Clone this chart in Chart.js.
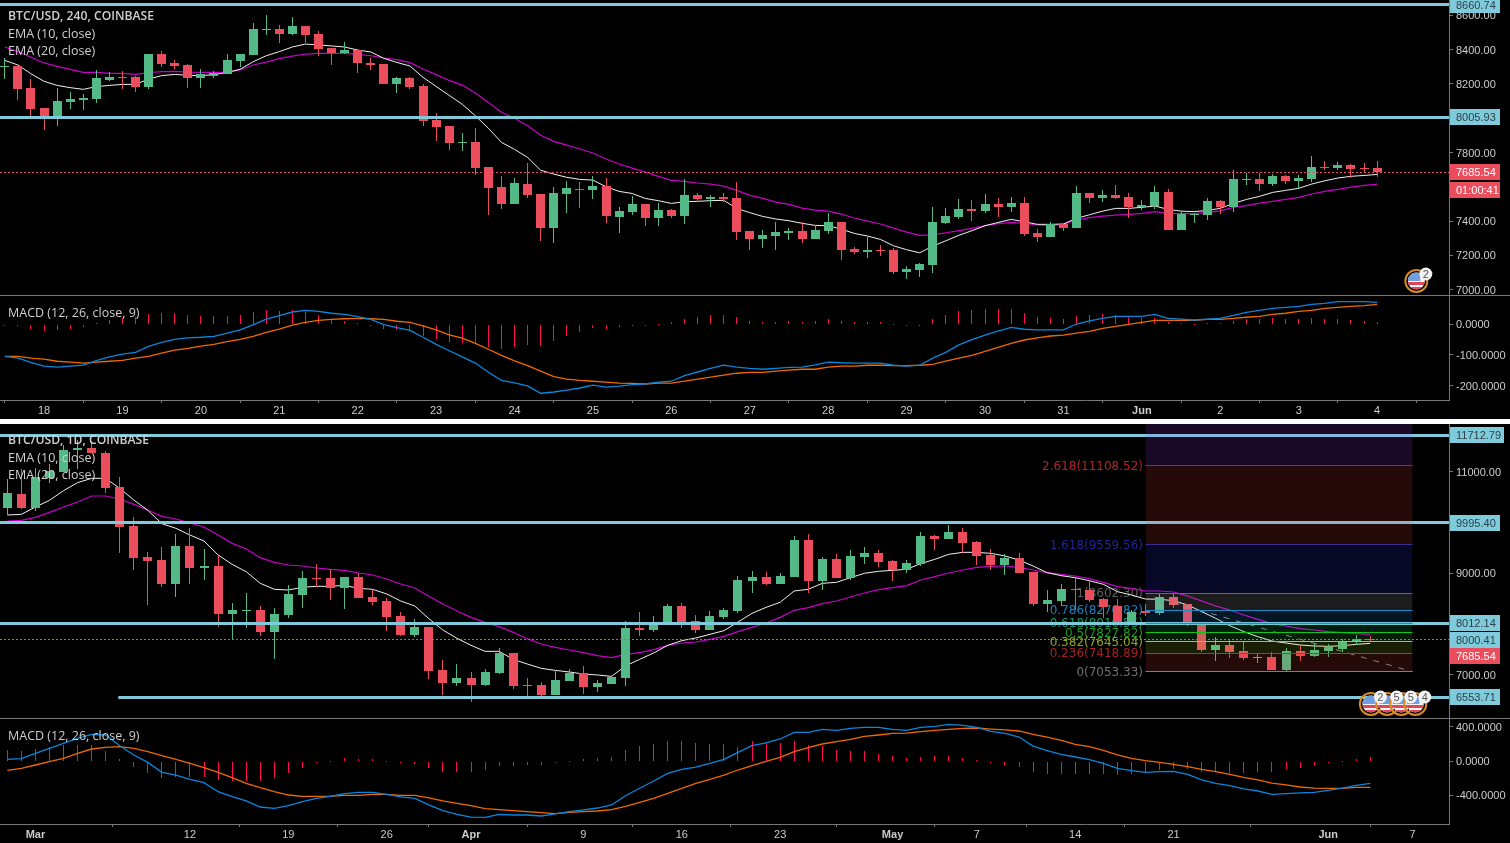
<!DOCTYPE html>
<html>
<head>
<meta charset="utf-8">
<title>BTC/USD</title>
<script src="https://cdn.jsdelivr.net/npm/chart.js@4/dist/chart.umd.min.js"></script>
<style>
  html, body { margin: 0; padding: 0; width: 1510px; height: 843px; background: #000; overflow: hidden; }
  canvas { position: absolute; left: 0; display: block; }
  .sep { position: absolute; left: 0; width: 1510px; }
</style>
</head>
<body>
<canvas id="price240" style="top:0" width="1510" height="295"></canvas>
<div class="sep" style="top:295px;height:1px;background:#777"></div>
<canvas id="macd240" style="top:296px" width="1510" height="123"></canvas>
<div class="sep" style="top:419px;height:5px;background:#fff"></div>
<canvas id="price1d" style="top:424px" width="1510" height="294"></canvas>
<div class="sep" style="top:718px;height:1px;background:#777"></div>
<canvas id="macd1d" style="top:719px" width="1510" height="124"></canvas>

<script>
// 240 minute candles
const open240 = [8300,8304,8174,8059,7995,8094,8106,8112,8222,8242,8240,8182,8374,8322,8310,8234,8246,8257,8333,8368,8516,8520,8491,8537,8491,8409,8378,8397,8320,8316,8199,8234,8187,7989,7954,7857,7861,7715,7598,7499,7616,7558,7359,7558,7587,7581,7604,7423,7453,7499,7418,7464,7429,7552,7528,7540,7534,7342,7295,7313,7332,7342,7295,7342,7394,7237,7219,7231,7231,7103,7114,7143,7388,7423,7470,7458,7499,7482,7505,7330,7307,7383,7359,7563,7534,7552,7540,7482,7488,7569,7348,7435,7435,7517,7482,7641,7645,7616,7663,7633,7645,7715,7709,7727,7711,7709];
const high240 = [8349,8304,8228,8059,8174,8150,8141,8281,8267,8275,8246,8374,8392,8339,8316,8287,8275,8374,8374,8555,8601,8543,8590,8537,8508,8409,8444,8397,8351,8316,8240,8240,8199,8030,7954,7913,7942,7715,7663,7651,7738,7558,7598,7633,7628,7663,7651,7482,7546,7499,7505,7470,7645,7563,7552,7563,7628,7342,7348,7394,7359,7394,7377,7447,7394,7248,7307,7260,7243,7138,7155,7482,7476,7528,7523,7558,7534,7540,7540,7353,7394,7383,7604,7563,7581,7610,7563,7523,7604,7587,7453,7447,7534,7523,7698,7680,7680,7674,7668,7668,7779,7750,7744,7733,7738,7750];
const low240 = [8230,8106,8009,7931,7954,8053,8047,8088,8217,8170,8152,8170,8298,8287,8176,8176,8234,8257,8298,8368,8485,8438,8485,8438,8362,8310,8374,8263,8281,8199,8147,8170,7954,7867,7814,7808,7668,7435,7470,7499,7534,7283,7272,7447,7476,7528,7388,7330,7435,7371,7371,7418,7383,7511,7482,7511,7289,7231,7243,7231,7289,7272,7295,7324,7173,7208,7184,7196,7091,7062,7074,7097,7383,7412,7400,7447,7423,7453,7313,7278,7307,7342,7359,7505,7511,7528,7418,7464,7470,7348,7348,7388,7406,7441,7453,7610,7575,7604,7616,7587,7628,7698,7698,7651,7680,7657];
const close240 = [8306,8170,8053,7995,8100,8112,8117,8234,8240,8238,8182,8374,8316,8304,8234,8257,8263,8339,8374,8520,8520,8491,8537,8485,8403,8378,8397,8322,8312,8199,8234,8182,7983,7948,7855,7861,7709,7593,7499,7622,7552,7359,7563,7593,7583,7604,7429,7458,7499,7418,7464,7429,7552,7528,7540,7528,7336,7295,7318,7336,7342,7295,7348,7394,7231,7219,7231,7227,7103,7120,7149,7394,7429,7470,7458,7499,7482,7505,7324,7307,7383,7359,7563,7534,7552,7534,7482,7493,7569,7348,7441,7441,7517,7482,7645,7645,7616,7663,7633,7651,7715,7711,7727,7703,7707,7685.54];
const ema10240 = [8337,8310,8259,8215,8191,8178,8168,8184,8191,8197,8197,8228,8248,8255,8250,8248,8254,8267,8285,8329,8364,8388,8415,8432,8427,8421,8415,8397,8386,8349,8325,8304,8238,8185,8133,8081,8014,7941,7859,7818,7771,7696,7674,7655,7643,7639,7600,7573,7561,7532,7519,7503,7513,7515,7519,7521,7474,7449,7427,7412,7402,7387,7375,7373,7353,7328,7313,7293,7256,7233,7215,7254,7285,7317,7344,7373,7392,7410,7396,7381,7381,7383,7416,7437,7458,7474,7474,7480,7488,7468,7458,7455,7462,7474,7503,7526,7544,7567,7579,7591,7616,7635,7651,7661,7666,7672];
const ema20240 = [8415,8388,8355,8322,8302,8285,8267,8267,8261,8261,8255,8265,8271,8273,8269,8267,8267,8267,8281,8310,8327,8347,8362,8374,8378,8378,8378,8372,8364,8351,8341,8324,8287,8254,8220,8193,8147,8092,8034,7999,7956,7900,7865,7843,7820,7797,7762,7733,7709,7686,7661,7637,7631,7622,7616,7604,7579,7550,7532,7511,7497,7476,7464,7458,7441,7418,7400,7383,7359,7336,7317,7320,7332,7344,7357,7373,7385,7392,7387,7377,7375,7381,7406,7420,7429,7435,7439,7445,7455,7443,7443,7443,7451,7460,7480,7490,7505,7515,7526,7538,7558,7573,7585,7598,7608,7614];
const macd240 = [-105,-111,-125,-137,-140,-137,-134,-119,-107,-98,-92,-73,-60,-50,-45,-43,-40,-30,-19,-3,16,27,39,44,41,35,31,24,15,-2,-12,-21,-43,-66,-87,-107,-127,-157,-183,-191,-201,-225,-221,-215,-208,-199,-205,-202,-197,-195,-189,-186,-168,-156,-144,-134,-140,-144,-147,-144,-141,-140,-133,-124,-126,-127,-127,-127,-134,-137,-134,-111,-92,-68,-51,-36,-23,-11,-17,-19,-19,-19,0,10,18,25,25,25,31,18,16,13,16,18,28,38,44,51,54,57,64,67,73,73,73,70];
const signal240 = [-105,-105,-111,-114,-121,-124,-127,-124,-121,-118,-111,-105,-95,-85,-79,-72,-66,-57,-50,-40,-27,-17,-4,5,12,15,17,18,17,15,9,5,-6,-19,-35,-46,-63,-82,-102,-120,-135,-153,-171,-179,-183,-186,-189,-192,-193,-195,-192,-192,-186,-179,-173,-166,-160,-157,-157,-153,-150,-147,-147,-140,-137,-137,-134,-134,-135,-135,-134,-131,-121,-111,-102,-89,-76,-63,-52,-45,-39,-36,-30,-24,-14,-8,-1,5,12,12,12,12,15,15,18,22,25,31,35,41,44,51,54,57,60,64];
const hist240 = [-2,-5,-15,-22,-18,-15,-9,2,12,18,23,32,36,36,29,26,26,26,29,39,45,42,45,39,29,13,10,2,-3,-16,-19,-23,-38,-48,-58,-61,-65,-75,-81,-75,-68,-71,-55,-39,-26,-14,-16,-9,-3,-3,0,6,16,23,29,29,23,10,5,5,10,5,10,16,10,5,5,5,1,-3,-3,16,29,42,45,49,49,49,36,23,19,16,26,29,32,29,23,19,19,6,2,0,2,3,10,16,16,19,16,16,19,16,16,13,10,6];
const dayTicks240 = [3,9,15,21,27,33,39,45,51,57,63,69,75,81,87,93,99,105];
const dayLabels240 = ['18','19','20','21','22','23','24','25','26','27','28','29','30','31','Jun','2','3','4'];
const priceTicks240 = [8600,8400,8200,7800,7400,7200,7000];
const macdTicks240 = [0,-100,-200];
const levels240 = [8660.74,8005.93];
const lastPrice = 7685.54;

// daily candles
const open1d = [10281,10557,10281,10865,10990,11423,11463,11364,10695,9927,9316,9257,8785,9533,9100,9139,8194,8259,8273,7839,8174,8568,8903,8903,8706,8922,8528,8450,8154,7780,7938,7091,6835,6933,6796,7032,7426,6796,6796,6599,6874,7032,6756,6815,6933,7918,7879,7997,8351,8056,7879,8135,8253,8844,8922,8785,8922,9651,8844,9277,8903,9316,9395,9237,9060,9178,9730,9671,9809,9612,9356,9159,9297,9021,8391,8450,8686,8666,8489,8351,8036,8246,8213,8528,8391,7997,7485,7583,7465,7334,7347,7091,7465,7367,7465,7504,7642,7701];
const high1d = [10852,11049,11069,11148,11522,11620,11600,11404,10892,10104,9415,9513,9769,9887,9474,9336,8410,8607,8351,8312,8765,9041,9178,9080,8922,9001,8666,8509,8233,8095,7938,7288,7209,7052,7111,7524,7426,6934,6855,7091,7111,7170,6894,6973,8056,8233,8154,8391,8410,8174,8253,8312,8942,9041,9021,9001,9730,9769,9316,9375,9454,9513,9454,9257,9257,9809,9750,9946,9887,9631,9474,9375,9395,9021,8666,8785,8903,8844,8509,8489,8272,8391,8587,8587,8391,8036,7741,7682,7642,7406,7445,7524,7583,7622,7603,7701,7780,7760];
const low1d = [10143,10261,10222,10773,10990,11049,11364,10576,9395,9060,8371,8726,8529,8785,8863,7938,7682,7918,7761,7308,8115,8312,8726,8469,8292,8509,8371,7859,7761,7741,6914,6599,6776,6461,6776,7012,6717,6579,6520,6599,6874,6618,6658,6815,6776,7760,7839,7997,7918,7820,7879,8095,8213,8607,8765,8785,8922,8607,8666,8903,8863,9178,9119,8844,9001,9139,9454,9671,9395,9159,9060,8962,9001,8351,8233,8351,8272,8430,8115,8017,8017,8154,8174,8312,7957,7445,7268,7327,7288,7229,7091,7071,7268,7347,7347,7445,7583,7655];
const close1d = [10576,10281,10892,11010,11423,11463,11364,10675,9907,9297,9238,8785,9533,9100,9139,8194,8273,8273,7839,8194,8588,8903,8890,8706,8922,8509,8430,8135,7780,7938,7071,6835,6933,6796,7052,7426,6776,6783,6599,6894,7032,6756,6835,6953,7918,7879,8017,8351,8036,7879,8154,8273,8863,8922,8785,8942,9651,8844,9277,8903,9336,9395,9218,9060,9198,9730,9671,9809,9592,9336,9159,9297,9001,8391,8469,8686,8660,8469,8332,8036,8233,8220,8528,8371,7977,7485,7583,7445,7327,7347,7091,7465,7367,7485,7537,7642,7695,7685.54];
const ema101d = [10143,10156,10301,10432,10622,10780,10865,10865,10668,10439,10235,9973,9881,9749,9631,9356,9172,9027,8798,8680,8666,8719,8739,8739,8758,8699,8680,8588,8450,8351,8102,7879,7715,7577,7459,7459,7301,7209,7124,7084,7052,7012,6993,6966,7170,7301,7426,7577,7669,7721,7793,7866,8036,8207,8325,8424,8647,8680,8798,8817,8909,8995,9034,9054,9073,9185,9270,9369,9408,9408,9388,9336,9257,9139,9008,8949,8909,8850,8778,8634,8568,8489,8483,8456,8371,8240,8108,7964,7846,7747,7662,7623,7583,7564,7557,7570,7596,7616];
const ema201d = [10025,10038,10097,10196,10301,10399,10517,10517,10458,10353,10242,10117,10065,9986,9907,9749,9585,9474,9303,9211,9159,9139,9100,9073,9054,9001,8962,8883,8785,8706,8542,8391,8253,8128,8030,7944,7833,7708,7603,7537,7485,7432,7373,7334,7399,7432,7491,7577,7623,7642,7695,7754,7846,7931,8017,8128,8266,8318,8397,8450,8529,8607,8673,8712,8752,8863,8929,9001,9060,9113,9132,9139,9113,9060,9008,8975,8942,8889,8817,8732,8699,8647,8647,8627,8548,8450,8351,8272,8174,8089,8003,7957,7905,7879,7846,7826,7806,7793];
const macd1d = [20,27,90,149,208,267,314,306,180,71,-16,-133,-165,-216,-255,-361,-419,-470,-541,-557,-525,-478,-439,-416,-384,-369,-369,-392,-423,-439,-517,-584,-627,-659,-663,-627,-635,-635,-647,-623,-596,-576,-553,-517,-408,-321,-235,-145,-98,-71,-27,20,102,180,212,259,337,337,372,361,384,396,396,372,361,396,408,431,419,396,349,325,282,176,122,78,47,16,-27,-86,-114,-133,-125,-122,-157,-223,-263,-290,-329,-353,-392,-384,-376,-369,-345,-318,-286,-263];
const signal1d = [-110,-86,-47,-8,31,90,141,161,169,149,110,63,20,-27,-78,-133,-196,-263,-314,-361,-400,-416,-416,-412,-404,-404,-392,-392,-404,-404,-435,-470,-498,-525,-561,-572,-584,-596,-608,-619,-604,-596,-588,-572,-533,-486,-439,-380,-321,-263,-216,-165,-106,-55,-4,43,110,157,200,227,255,290,306,325,329,345,361,372,384,388,376,365,353,314,282,243,196,169,125,71,31,4,-16,-39,-67,-98,-125,-157,-192,-223,-259,-282,-306,-318,-321,-321,-310,-310];
const hist1d = [129,118,141,165,188,188,188,118,24,-71,-141,-200,-188,-188,-188,-224,-235,-235,-235,-200,-141,-82,-24,0,35,24,24,0,-24,-39,-82,-129,-129,-129,-106,-59,-59,-47,-47,-24,-4,24,35,47,129,176,200,235,235,212,200,200,165,235,212,212,235,188,176,129,118,118,82,59,35,47,59,59,35,12,-24,-47,-71,-129,-153,-153,-153,-153,-153,-165,-153,-129,-106,-94,-94,-129,-129,-141,-141,-129,-129,-94,-82,-47,-24,0,24,47];
const dayTicks1d = [2,13,20,27,33,41,48,55,63,69,76,83,94,100];
const dayLabels1d = ['Mar','12','19','26','Apr','9','16','23','May','7','14','21','Jun','7'];
const priceTicks1d = [11000,9000,7000];
const macdTicks1d = [400,0,-400];
const levels1d = [11712.79,9995.40,8012.14];
const supportLevel = 6553.71;

// fibonacci retracement on the daily chart, from the top band down
const fibRatios = ['2.618','1.618','1','0.786','0.618','0.5','0.382','0.236','0'];
const fibPrices = [11108.52,9559.56,8602.30,8270.82,8010.55,7827.82,7645.04,7418.89,7053.33];
const fibLineColors = ['#b71c1c','#2a2a9c','#6b6b6b','#2389c4','#12a06e','#16c416','#a4d628','#c62828','#808080'];
const fibTextColors = ['#b32424','#23239a','#5f5f5f','#1f80bc','#0f9a68','#1b9a1b','#8aa820','#a82020','#707070'];
const fibBandColors = ['rgba(244,67,54,.15)','rgba(50,50,255,.15)','rgba(190,190,190,.15)','rgba(33,150,243,.15)','rgba(0,200,110,.15)','rgba(60,200,60,.15)','rgba(160,210,30,.15)','rgba(244,67,54,.15)'];
const fibFrom = 81;
const fibTo = 100;
const trendX = [83,100];
const trendY = [8416,7058];

const UP = '#53b987';
const DOWN = '#eb4d5c';
const BLUE_LINE = '#7fcbdc';
const AXIS = '#777';
const TEXT = '#cccccc';
const TICK_FONT = 'Liberation Sans';
const LEGEND_FONT = 'Open Sans';

const range240 = { min: -0.37, max: 110.5 };
const range1d = { min: -0.52, max: 102.6 };

const points = (arr) => arr.map((y, x) => ({ x, y }));
const flat = (y, from, to) => [{ x: from, y }, { x: to, y }];

function lineSet(data, color, order, width = 1, extra = {}) {
    return { type: 'line', data, borderColor: color, borderWidth: width, pointRadius: 0, tension: 0, order, ...extra };
}

// wicks and bodies are two floating bar sets lying over each other
function candleSets(o, h, l, c) {
    const colors = c.map((v, i) => v >= o[i] ? UP : DOWN);
    const bar = { type: 'bar', grouped: false, inflateAmount: 0, backgroundColor: colors };
    return [
        { ...bar, data: l.map((v, x) => ({ x, y: [v, h[x]] })), barThickness: 1, order: 11 },
        { ...bar, data: o.map((v, x) => ({ x, y: [v, c[x]] })), barThickness: 9, order: 10 }
    ];
}

// keeps wicks, histogram sticks and level lines crisp
const snapBars = {
    id: 'snapBars',
    beforeDatasetsDraw(chart) {
        chart.getSortedVisibleDatasetMetas().forEach(meta => {
            if (meta.type === 'bar') {
                meta.data.forEach(el => {
                    el.x = Math.floor(el.x) + 0.5;
                    el.y = Math.round(el.y);
                    el.base = Math.round(el.base);
                    if (el.y === el.base) el.base += 1;
                });
            } else if (meta.data.length === 2 && meta.data[0].y === meta.data[1].y) {
                meta.data.forEach(el => { el.y = Math.floor(el.y) + 0.5; });
            }
        });
    }
};

const drawText = (ctx, text, x, y, font, color, align = 'left') => {
    ctx.font = font;
    ctx.fillStyle = color;
    ctx.textAlign = align;
    ctx.textBaseline = 'middle';
    ctx.fillText(text, x, y);
};

function legendPlugin(lines) {
    return {
        id: 'legendText',
        afterDraw(chart) {
            chart.ctx.save();
            lines.forEach((t, i) => {
                const head = i === 0 && lines.length > 1;
                drawText(chart.ctx, t, 8, chart.chartArea.top + 17 + i * 17, (head ? '600 12.2px "' : '12.5px "') + LEGEND_FONT + '"', '#cfcfcf');
            });
            chart.ctx.restore();
        }
    };
}

function boxesPlugin(boxes) {
    return {
        id: 'priceBoxes',
        afterDraw(chart) {
            const ctx = chart.ctx;
            const y = chart.scales.y;
            ctx.save();
            boxes.forEach(b => {
                const cy = Math.round(y.getPixelForValue(b.value) + (b.dy || 0));
                ctx.fillStyle = b.bg;
                ctx.fillRect(1450, cy - 8, b.w || 50, 16);
                drawText(ctx, b.text, 1456, cy + 1, '11px "' + TICK_FONT + '"', b.fg);
            });
            ctx.restore();
        }
    };
}

function drawFlag(ctx, x, y) {
    ctx.save();
    ctx.beginPath();
    ctx.arc(x, y, 8.5, 0, Math.PI * 2);
    ctx.clip();
    ctx.fillStyle = '#f4f4f4';
    ctx.fillRect(x - 9, y - 9, 18, 18);
    ctx.fillStyle = '#e0455a';
    ctx.fillRect(x - 9, y + 1, 18, 3);
    ctx.fillRect(x - 9, y + 6, 18, 3);
    ctx.fillStyle = '#6f9fe0';
    ctx.fillRect(x - 9, y - 9, 13, 9);
    ctx.restore();
    ctx.strokeStyle = '#d98a25';
    ctx.lineWidth = 2;
    ctx.beginPath();
    ctx.arc(x, y, 11, 0, Math.PI * 2);
    ctx.stroke();
}

function eventsPlugin(events, counts) {
    return {
        id: 'eventFlags',
        afterDraw(chart) {
            const ctx = chart.ctx;
            const x = chart.scales.x;
            const cy = chart.chartArea.bottom - 14;
            ctx.save();
            events.forEach(v => drawFlag(ctx, x.getPixelForValue(v), cy));
            events.forEach((v, i) => {
                const bx = x.getPixelForValue(v) + 9.5;
                ctx.fillStyle = '#f2f2f2';
                ctx.beginPath();
                ctx.arc(bx, cy - 7, 6.5, 0, Math.PI * 2);
                ctx.fill();
                drawText(ctx, counts[i], bx, cy - 6.5, '11px "' + TICK_FONT + '"', '#555', 'center');
            });
            ctx.restore();
        }
    };
}

// fib labels lie under the candles
const fibLabels = {
    id: 'fibLabels',
    beforeDatasetsDraw(chart) {
        const ctx = chart.ctx;
        const y = chart.scales.y;
        ctx.save();
        fibRatios.forEach((r, i) => {
            drawText(ctx, r + '(' + fibPrices[i].toFixed(2) + ')', 1143, y.getPixelForValue(fibPrices[i]) + 1, '12px "DejaVu Sans"', fibTextColors[i], 'right');
        });
        ctx.restore();
    }
};

function baseOptions(xRange, yMin, yMax, yTicks, yFormat, xTicks, xLabels) {
    const boldNames = ['Mar', 'Apr', 'May', 'Jun'];
    const labelFor = (v) => xTicks ? xLabels[xTicks.indexOf(v)] : '';
    return {
        responsive: false,
        devicePixelRatio: 1,
        animation: false,
        events: [],
        layout: { padding: 0 },
        plugins: { legend: { display: false }, tooltip: { enabled: false }, title: { display: false } },
        scales: {
            x: {
                type: 'linear',
                offset: false,
                min: xRange.min,
                max: xRange.max,
                display: !!xTicks,
                border: { color: AXIS },
                grid: { drawOnChartArea: false, color: AXIS, tickLength: 3 },
                afterBuildTicks: (scale) => { scale.ticks = (xTicks || []).map(value => ({ value })); },
                afterFit: (scale) => {
                    scale.height = xTicks ? 19 : 0;
                    scale.paddingLeft = 0;
                    scale.paddingRight = 0;
                },
                ticks: {
                    autoSkip: false,
                    maxRotation: 0,
                    padding: 1,
                    color: TEXT,
                    font: (ctx) => ({
                        family: TICK_FONT,
                        size: 11,
                        weight: ctx.tick && boldNames.includes(labelFor(ctx.tick.value)) ? 'bold' : 'normal'
                    }),
                    callback: labelFor
                }
            },
            y: {
                type: 'linear',
                position: 'right',
                min: yMin,
                max: yMax,
                border: { color: AXIS },
                grid: { drawOnChartArea: false, color: AXIS, tickLength: 4 },
                afterBuildTicks: (scale) => { scale.ticks = yTicks.map(value => ({ value })); },
                afterFit: (scale) => {
                    scale.width = 61;
                    scale.paddingTop = 0;
                    scale.paddingBottom = 0;
                },
                ticks: {
                    autoSkip: false,
                    padding: 3,
                    labelOffset: 1,
                    color: TEXT,
                    font: { family: TICK_FONT, size: 11 },
                    callback: yFormat
                }
            }
        }
    };
}

const twoDecimals = (v) => v.toFixed(2);
const fourDecimals = (v) => v.toFixed(4);

function macdChart(id, xRange, yMin, yMax, yTicks, macd, signal, hist, xTicks, xLabels) {
    new Chart(document.getElementById(id), {
        type: 'bar',
        data: {
            datasets: [
                lineSet(points(macd), '#0a86dc', 1, 1.3),
                lineSet(points(signal), '#ee6a00', 2, 1.3),
                { type: 'bar', grouped: false, inflateAmount: 0, data: points(hist), backgroundColor: '#ff0a5c', barThickness: 1, order: 3 }
            ]
        },
        options: baseOptions(xRange, yMin, yMax, yTicks, fourDecimals, xTicks, xLabels),
        plugins: [snapBars, legendPlugin(['MACD (12, 26, close, 9)'])]
    });
}

// top price pane
new Chart(document.getElementById('price240'), {
    type: 'bar',
    data: {
        datasets: [
            ...levels240.map(v => lineSet(flat(v, range240.min, range240.max), BLUE_LINE, 2, 3)),
            lineSet(flat(lastPrice, range240.min, range240.max), DOWN, 3, 1, { borderDash: [2, 2] }),
            ...candleSets(open240, high240, low240, close240),
            lineSet(points(ema10240), '#f0f0f0', 20),
            lineSet(points(ema20240), '#c800c8', 21, 1.2)
        ]
    },
    options: baseOptions(range240, 6969, 8689, priceTicks240, twoDecimals),
    plugins: [
        snapBars,
        legendPlugin(['BTC/USD, 240, COINBASE', 'EMA (10, close)', 'EMA (20, close)']),
        boxesPlugin([
            { text: '8660.74', value: 8660.74, bg: BLUE_LINE, fg: '#2e3f45' },
            { text: '8005.93', value: 8005.93, bg: BLUE_LINE, fg: '#2e3f45' },
            { text: '7685.54', value: lastPrice, bg: DOWN, fg: '#fff' },
            { text: '01:00:41', value: lastPrice, dy: 18, bg: DOWN, fg: '#fff' }
        ]),
        eventsPlugin([108], ['2'])
    ]
});

macdChart('macd240', range240, -247, 91, macdTicks240, macd240, signal240, hist240, dayTicks240, dayLabels240);

// lower price pane
const fibBands = fibPrices.slice(0, -1).map((p, i) => lineSet(flat(p, fibFrom, fibTo), fibLineColors[i], 1, 1, {
    fill: { value: fibPrices[i + 1] },
    backgroundColor: fibBandColors[i]
}));

new Chart(document.getElementById('price1d'), {
    type: 'bar',
    data: {
        datasets: [
            lineSet(flat(fibPrices[0], fibFrom, fibTo), fibLineColors[0], 1, 1, { fill: 'end', backgroundColor: 'rgba(170,60,255,.15)' }),
            ...fibBands,
            lineSet(flat(fibPrices[8], fibFrom, fibTo), fibLineColors[8], 1, 1),
            lineSet(trendX.map((x, i) => ({ x, y: trendY[i] })), '#8a8a8a', 1, 1, { borderDash: [6, 7] }),
            ...levels1d.map(v => lineSet(flat(v, range1d.min, range1d.max), BLUE_LINE, 2, 3)),
            lineSet(flat(supportLevel, 7.9, range1d.max), BLUE_LINE, 2, 3),
            lineSet(flat(lastPrice, range1d.min, range1d.max), DOWN, 3, 1, { borderDash: [2, 2] }),
            ...candleSets(open1d, high1d, low1d, close1d),
            lineSet(points(ema101d), '#f0f0f0', 20),
            lineSet(points(ema201d), '#c800c8', 21, 1.2)
        ]
    },
    options: baseOptions(range1d, 6146, 11935, priceTicks1d, twoDecimals),
    plugins: [
        snapBars,
        fibLabels,
        legendPlugin(['BTC/USD, 1D, COINBASE', 'EMA (10, close)', 'EMA (20, close)']),
        boxesPlugin([
            { text: '11712.79', value: 11712.79, bg: BLUE_LINE, fg: '#2e3f45', w: 54 },
            { text: '9995.40', value: 9995.40, bg: BLUE_LINE, fg: '#2e3f45' },
            { text: '8012.14', value: 8012.14, bg: BLUE_LINE, fg: '#2e3f45' },
            { text: '8000.41', value: lastPrice, bg: BLUE_LINE, fg: '#2e3f45' },
            { text: '7685.54', value: lastPrice, dy: 16, bg: DOWN, fg: '#fff' },
            { text: '6553.71', value: supportLevel, bg: BLUE_LINE, fg: '#2e3f45' }
        ]),
        eventsPlugin([97.04, 98.2, 99.2, 100.2], ['2', '5', '5', '4'])
    ]
});

macdChart('macd1d', range1d, -741, 494, macdTicks1d, macd1d, signal1d, hist1d, dayTicks1d, dayLabels1d);
</script>
</body>
</html>
